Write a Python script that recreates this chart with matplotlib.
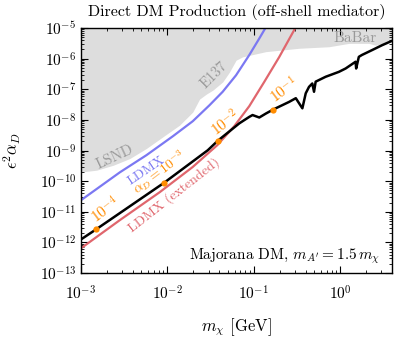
import numpy as np
import matplotlib
matplotlib.use('Agg')
import matplotlib.pyplot as plt

plt.rcParams['font.family'] = ['cmr10', 'DejaVu Serif']
plt.rcParams['mathtext.fontset'] = 'cm'
plt.rcParams['axes.formatter.use_mathtext'] = True
plt.rcParams['axes.unicode_minus'] = False

# ---- data (log10 values) --------------------------------------------------------
# excluded region (LSND / E137 / BaBar), lower edge
bg_x = [-3.0, -2.819, -2.627, -2.435, -2.242, -2.051, -1.858, -1.705, -1.627,
        -1.550, -1.474, -1.359, -1.281, -1.204, -1.128, -0.858, -0.474, -0.128,
        0.103, 0.334, 0.411, 0.526, 0.60]
bg_y = [-9.70, -9.64, -9.48, -9.26, -8.93, -8.55, -8.17, -7.74, -7.32,
        -7.16, -7.03, -6.76, -6.44, -6.05, -5.94, -5.77, -5.66, -5.61,
        -5.50, -5.50, -5.56, -5.49, -5.33]

# LDMX projection
ldmx_x = [-3.0, -2.550, -2.242, -1.935, -1.705, -1.512, -1.359, -1.204, -1.051,
          -0.935, -0.858]
ldmx_y = [-10.62, -9.71, -9.15, -8.53, -8.04, -7.52, -7.08, -6.54, -5.88,
          -5.34, -4.97]

# LDMX (extended)
ldmxe_x = [-3.0, -2.550, -2.089, -1.708, -1.420, -1.224, -1.051, -0.878, -0.705,
           -0.512]
ldmxe_y = [-12.19, -11.27, -10.36, -9.54, -8.82, -8.20, -7.55, -6.76, -5.95,
           -4.97]

# relic target, Majorana DM
relic_x = [-3.0, -2.824, -2.037, -1.532, -1.416, -1.166, -1.051, -1.013, -0.935,
           -0.858, -0.774, -0.589, -0.512, -0.436, -0.397, -0.359, -0.321, -0.301,
           -0.282, -0.166, -0.013, 0.065, 0.180, 0.187, 0.218, 0.253, 0.371,
           0.487, 0.60]
relic_y = [-11.90, -11.57, -10.05, -8.99, -8.68, -8.11, -7.90, -7.84, -7.92,
           -7.79, -7.66, -7.41, -7.29, -7.62, -7.13, -6.92, -6.81, -7.08,
           -6.75, -6.59, -6.43, -6.32, -6.10, -6.32, -5.94, -5.88, -5.72,
           -5.56, -5.42]

# alpha_D markers on the relic line
dot_x = [-2.824, -2.037, -1.416, -0.774]
dot_y = [-11.57, -10.05, -8.68, -7.66]
dot_labels = [r'$10^{-4}$', r'$\alpha_D = 10^{-3}$', r'$10^{-2}$', r'$10^{-1}$']
dot_label_x = [-2.717, -2.089, -1.333, -0.647]
dot_label_y = [-10.93, -9.72, -8.09, -7.01]

def p(v):
    return 10**np.asarray(v, dtype=float)

GRAY, BLUE, RED, ORANGE = '#dddddd', '#7b78f2', '#e0666d', '#ff8c00'

fig = plt.figure(figsize=(3.99, 3.38), dpi=100)
ax = fig.add_axes([0.203, 0.192, 0.779, 0.725])
ax.set_xscale('log'); ax.set_yscale('log')
ax.set_xlim(1e-3, 10**0.6); ax.set_ylim(1e-13, 1e-5)

ax.fill_between(p(bg_x), p(bg_y), 1e-5, color=GRAY, lw=0, zorder=1)
ax.plot(p(ldmx_x), p(ldmx_y), color=BLUE, lw=1.6, zorder=2)
ax.plot(p(ldmxe_x), p(ldmxe_y), color=RED, lw=1.6, zorder=2)
ax.plot(p(relic_x), p(relic_y), color='black', lw=1.8, zorder=3)
ax.plot(p(dot_x), p(dot_y), 'o', color=ORANGE, ms=4.5, mec='none', zorder=4)

# labels
kw = dict(ha='center', va='center', fontsize=10)
for lx, ly, lt in zip(dot_label_x, dot_label_y, dot_labels):
    ax.text(p(lx), p(ly), lt, color=ORANGE, rotation=37,
            **dict(kw, fontsize=10 if 'alpha' in lt else 11))
ax.text(p(-2.24), p(-9.67), 'LDMX', color=BLUE, rotation=34, **kw)
ax.text(p(-1.92), p(-10.46), 'LDMX (extended)', color=RED, rotation=38, **kw)
ax.text(p(-2.608), p(-9.22), 'LSND', color='#999999', rotation=25,
        **dict(kw, fontsize=10.5))
ax.text(p(-1.455), p(-6.54), 'E137', color='#999999', rotation=45,
        **dict(kw, fontsize=10.5))
ax.text(p(0.17), p(-5.33), 'BaBar', color='#999999', rotation=0,
        **dict(kw, fontsize=11))
ax.text(0.961, 0.067, r"Majorana DM, $m_{A'} = 1.5\,m_\chi$", transform=ax.transAxes,
        ha='right', va='center', fontsize=11)

ax.set_xticks([1e-3, 1e-2, 1e-1, 1e0])
ax.set_yticks([10.0**k for k in range(-13, -4)])
ax.tick_params(which='both', direction='in', top=True, right=True, labelsize=11)
ax.tick_params(which='major', length=5, width=0.8)
ax.tick_params(which='minor', length=2.5, width=0.6)
ax.tick_params(axis='x', which='major', pad=8)
for sp in ax.spines.values():
    sp.set_linewidth(1.0)
ax.set_xlabel(r'$m_\chi$ [GeV]', fontsize=12, labelpad=10)
ax.set_ylabel(r'$\epsilon^2\alpha_D$', fontsize=12, labelpad=12)
ax.set_title('Direct DM Production (off-shell mediator)', fontsize=11.5, pad=9)

fig.savefig('out.png', dpi=100)
